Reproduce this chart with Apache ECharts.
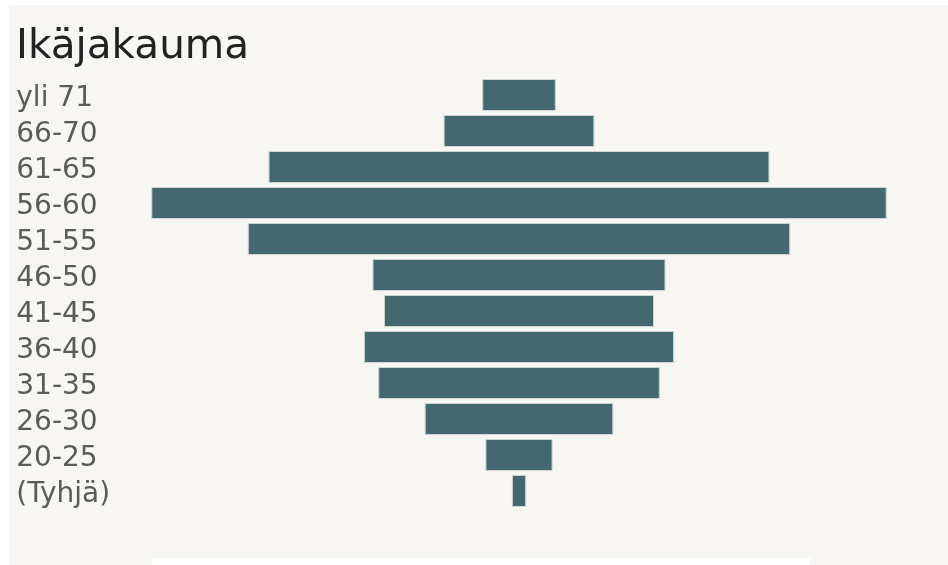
<!DOCTYPE html>
<html>
<head>
<meta charset="utf-8">
<script src="https://cdn.jsdelivr.net/npm/echarts@6/dist/echarts.min.js"></script>
<style>
html,body{margin:0;padding:0;background:#ffffff;}
#chart{width:948px;height:565px;}
</style>
</head>
<body>
<div id="chart"></div>
<script>
var categories = ['yli 71','66-70','61-65','56-60','51-55','46-50','41-45','36-40','31-35','26-30','20-25','(Tyhjä)'];
var values = [10.3, 21.1, 70.1, 102.9, 75.9, 41.0, 37.8, 43.4, 39.4, 26.4, 9.4, 2.0];
var titleText = 'Ikäjakauma';

var maxVal = Math.max.apply(null, values);
var offsets = values.map(function (v) { return (maxVal - v) / 2; });

var chart = echarts.init(document.getElementById('chart'), null, {renderer: 'canvas'});
chart.setOption({
  backgroundColor: '#ffffff',
  animation: false,
  graphic: [
    {type: 'rect', z: -10, silent: true, shape: {x: 9, y: 5, width: 939, height: 560}, style: {fill: '#f7f6f2'}},
    {type: 'rect', z: -9, silent: true, shape: {x: 152, y: 558, width: 658, height: 7}, style: {fill: '#ffffff'}}
  ],
  title: {
    text: titleText,
    left: 11,
    top: 22,
    textStyle: {fontFamily: 'DejaVu Sans', fontSize: 40.5, fontWeight: 'normal', color: '#222222'}
  },
  grid: {left: 151.3, right: 61.3, top: 77, bottom: 56, containLabel: false},
  xAxis: {
    type: 'value', min: 0, max: maxVal, show: false
  },
  yAxis: {
    type: 'category',
    data: categories,
    inverse: true,
    axisLine: {show: false},
    axisTick: {show: false},
    splitLine: {show: false},
    axisLabel: {
      interval: 0,
      align: 'left',
      margin: 135,
      formatter: function (v) { return '{a|' + v + '}'; },
      rich: {
        a: {
          fontFamily: 'DejaVu Sans',
          fontSize: 28,
          color: '#5a5a5a',
          padding: [7, 0, 0, 0]
        }
      }
    }
  },
  series: [
    {
      type: 'bar', stack: 'a', data: offsets, silent: true,
      itemStyle: {color: 'rgba(0,0,0,0)'},
      barCategoryGap: '11.1%'
    },
    {
      type: 'bar', stack: 'a', data: values,
      itemStyle: {color: '#436870', borderColor: '#cfd6d4', borderWidth: 1},
      barCategoryGap: '11.1%'
    }
  ]
});
</script>
</body>
</html>
